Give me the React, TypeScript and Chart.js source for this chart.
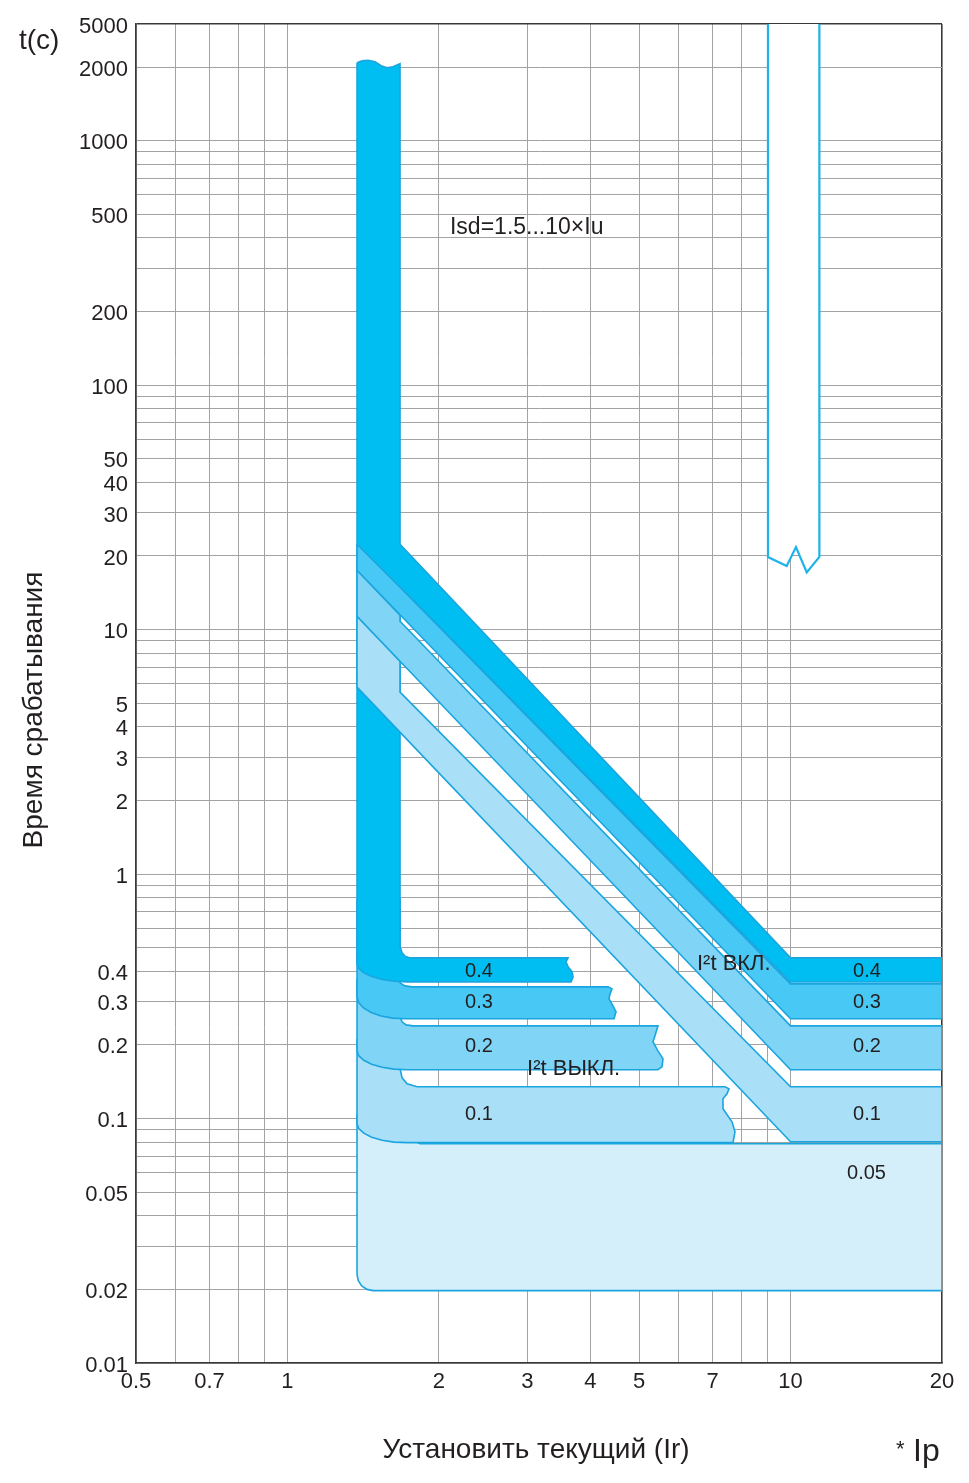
import React, { useEffect, useRef } from 'react';
import { Chart, registerables } from 'chart.js';

Chart.register(...registerables);

// ---------- axes ----------
const xTickValues = [0.5, 0.7, 1, 2, 3, 4, 5, 7, 10, 20];
const xTickLabels = ['0.5', '0.7', '1', '2', '3', '4', '5', '7', '10', '20'];
const xGridValues = [0.5, 0.6, 0.7, 0.8, 0.9, 1, 2, 3, 4, 5, 6, 7, 8, 9, 10, 20];

const yTickValues = [3000, 2000, 1000, 500, 200, 100, 50, 40, 30, 20, 10, 5, 4, 3, 2, 1, 0.4, 0.3, 0.2, 0.1, 0.05, 0.02, 0.01];
const yTickLabels = ['5000', '2000', '1000', '500', '200', '100', '50', '40', '30', '20', '10', '5', '4', '3', '2', '1', '0.4', '0.3', '0.2', '0.1', '0.05', '0.02', '0.01'];
const yGridDecades = [0.01, 0.1, 1, 10, 100];
const yGridExtra = [1000, 2000, 3000];

// ---------- bands: current (x Ir) and time (s) of outline vertices ----------
// tsd = 0.05 band
const band005I = [1.375, 1.835, 20, 20, 1.48, 1.439, 1.405, 1.383, 1.375, 1.375];
const band005T = [0.1046, 0.0789, 0.0789, 0.01978, 0.01978, 0.02, 0.02068, 0.02172, 0.023, 0.1046];

// I2t OFF, tsd = 0.1 (left, broken end)
const off01I = [1.375, 1.674, 1.674, 1.69, 1.729, 1.81, 7.408, 7.545, 7.476, 7.34, 7.34, 7.649, 7.755, 7.684, 1.729, 1.629, 1.542, 1.47, 1.418, 1.386, 1.375, 1.375];
const off01T = [0.212, 0.212, 0.1598, 0.1468, 0.1388, 0.1349, 0.1349, 0.1323, 0.1263, 0.1205, 0.1096, 0.097, 0.0883, 0.0797, 0.0797, 0.0801, 0.0815, 0.0839, 0.0871, 0.091, 0.0952, 0.212];

// I2t OFF, tsd = 0.2
const off02I = [1.375, 1.674, 1.674, 1.69, 1.721, 1.777, 5.451, 5.377, 5.328, 5.451, 5.578, 5.552, 5.451, 1.729, 1.629, 1.542, 1.47, 1.418, 1.386, 1.375, 1.375];
const off02T = [0.3726, 0.3726, 0.2606, 0.2486, 0.2416, 0.2394, 0.2394, 0.2181, 0.206, 0.1892, 0.1755, 0.1628, 0.1583, 0.1583, 0.1592, 0.162, 0.1669, 0.173, 0.1807, 0.1892, 0.3726];

// I2t OFF, tsd = 0.3
const off03I = [1.375, 1.674, 1.674, 1.713, 1.769, 4.337, 4.417, 4.377, 4.357, 4.437, 4.499, 4.458, 1.713, 1.618, 1.535, 1.467, 1.416, 1.385, 1.375, 1.375];
const off03T = [0.791, 0.791, 0.3589, 0.3488, 0.3455, 0.3455, 0.3391, 0.3236, 0.3088, 0.2891, 0.2733, 0.2558, 0.2558, 0.2574, 0.2628, 0.2716, 0.2837, 0.2982, 0.3145, 0.791];

// tsd = 0.4 (vertical Isd band, I2t ON diagonal and I2t OFF step)
const band04I = [1.375, 1.407, 1.446, 1.493, 1.535, 1.577, 1.621, 1.674, 1.674, 10, 20, 20, 10, 1.674, 1.674, 1.69, 1.713, 1.753, 3.612, 3.579, 3.612, 3.679, 3.696, 3.662, 1.729, 1.629, 1.542, 1.47, 1.418, 1.386, 1.375, 1.375];
const band04T = [2083, 2123, 2133, 2102, 2025, 1988, 2006, 2064, 22.34, 0.454, 0.454, 0.362, 0.362, 14.9, 0.5037, 0.476, 0.4606, 0.454, 0.454, 0.4372, 0.4172, 0.3981, 0.3798, 0.3622, 0.3622, 0.3644, 0.3705, 0.3808, 0.3942, 0.4107, 0.4291, 2083];

// I2t ON diagonals
const on01I = [1.375, 1.674, 1.674, 10, 20, 20, 10, 1.375, 1.375];
const on01T = [11.34, 7.43, 5.548, 0.1349, 0.1349, 0.0804, 0.0804, 5.815, 11.34];
const on02I = [1.375, 1.674, 1.674, 10, 20, 20, 10, 1.375, 1.375];
const on02T = [17.48, 11.45, 10.82, 0.2394, 0.2394, 0.1583, 0.1583, 11.34, 17.48];
const on03I = [1.375, 1.674, 10, 20, 20, 10, 1.375, 1.375];
const on03T = [22.34, 14.9, 0.3555, 0.3555, 0.2558, 0.2558, 17.48, 22.34];

// instantaneous zone (open frame, top right)
const instI = [9.018, 9.018, 9.825, 10.25, 10.77, 11.41, 11.41, 9.018];
const instT = [5000, 19.82, 18.21, 21.76, 17.12, 19.82, 5000, 5000];

// ---------- in-plot labels ----------
const noteTexts = ['Isd=1.5...10×Iu', '0.4', '0.3', '0.2', '0.1', '0.4', '0.3', '0.2', '0.1', '0.05', 'I²t ВЫКЛ.', 'I²t ВКЛ.'];
const noteI = [2.104, 2.254, 2.254, 2.254, 2.254, 13.31, 13.31, 13.31, 13.31, 12.95, 2.994, 6.516];
const noteT = [441, 0.4, 0.297, 0.197, 0.104, 0.4, 0.297, 0.197, 0.104, 0.0598, 0.159, 0.43];
const noteSizes = [23, 20, 20, 20, 20, 20, 20, 20, 20, 20, 22, 22];

const FONT = "'Liberation Sans', Arial, Helvetica, sans-serif";
const TEXT = '#231F20';
const STROKE = '#1AA5DE';
const C04 = '#00BDF2';
const C03 = '#48C8F4';
const C02 = '#80D4F6';
const C01 = '#AADFF8';
const C005 = '#D4EEFA';

const zip = (xs: number[], ys: number[]) => xs.map((x, i) => ({ x, y: ys[i] }));
const near = (a: number, b: number) => Math.abs(a - b) <= 1e-9 * Math.max(Math.abs(a), Math.abs(b));

const textPlugin = {
  id: 'chartTexts',
  afterDatasetsDraw(chart: any) {
    const { ctx, scales } = chart;
    const xs = scales.x;
    const ys = scales.y;
    ctx.save();
    ctx.fillStyle = TEXT;
    ctx.textBaseline = 'middle';
    ctx.textAlign = 'left';
    noteTexts.forEach((t, i) => {
      ctx.font = `${noteSizes[i]}px ${FONT}`;
      ctx.fillText(t, xs.getPixelForValue(noteI[i]), ys.getPixelForValue(noteT[i]));
    });
    // unit label
    ctx.font = `28px ${FONT}`;
    ctx.fillText('t(c)', 19, 41);
    // y title
    ctx.save();
    ctx.translate(34, 710);
    ctx.rotate(-Math.PI / 2);
    ctx.textAlign = 'center';
    ctx.font = `28px ${FONT}`;
    ctx.fillText('Время срабатывания', 0, 0);
    ctx.restore();
    // x title
    ctx.textAlign = 'center';
    ctx.font = `28px ${FONT}`;
    ctx.fillText('Установить текущий (Ir)', 536, 1450);
    ctx.textAlign = 'left';
    ctx.font = `22px ${FONT}`;
    ctx.fillText('*', 896, 1450);
    ctx.font = `32px ${FONT}`;
    ctx.fillText('Ip', 913, 1452);
    ctx.restore();
  },
};

export default function App() {
  const ref = useRef<HTMLCanvasElement | null>(null);

  useEffect(() => {
    const canvas = ref.current;
    if (!canvas) return;

    const layers = [
      { I: band005I, T: band005T, fill: C005, stroke: STROKE, w: 1.6 },
      { I: off01I, T: off01T, fill: C01, stroke: STROKE, w: 1.6 },
      { I: off02I, T: off02T, fill: C02, stroke: STROKE, w: 1.6 },
      { I: off03I, T: off03T, fill: C03, stroke: STROKE, w: 1.6 },
      { I: band04I, T: band04T, fill: C04, stroke: STROKE, w: 1.6 },
      { I: on01I, T: on01T, fill: C01, stroke: STROKE, w: 1.6 },
      { I: on02I, T: on02T, fill: C02, stroke: STROKE, w: 1.6 },
      { I: on03I, T: on03T, fill: C03, stroke: STROKE, w: 1.6 },
      { I: instI, T: instT, fill: '#FFFFFF', stroke: '#1DB3EA', w: 2.2 },
    ];

    const datasets = layers.map((l, i) => ({
      data: zip(l.I, l.T),
      borderColor: l.stroke,
      borderWidth: l.w,
      backgroundColor: l.fill,
      fill: 'shape',
      pointRadius: 0,
      pointHoverRadius: 0,
      tension: 0,
      order: layers.length - i,
    }));

    const yGridValues: number[] = [];
    yGridDecades.forEach((d) => {
      for (let m = 1; m <= 9; m++) yGridValues.push(Number((m * d).toPrecision(6)));
    });
    yGridExtra.forEach((v) => yGridValues.push(v));

    const frame = '#3a3a3a';
    const gridC = '#a3a3a3';

    const chart = new Chart(canvas, {
      type: 'line',
      data: { datasets: datasets as any },
      options: {
        responsive: false,
        animation: false,
        events: [],
        layout: { padding: { top: 24, right: 27, bottom: 0, left: 0 } },
        plugins: { legend: { display: false }, tooltip: { enabled: false } },
        scales: {
          x: {
            type: 'logarithmic',
            min: 0.5,
            max: 20,
            afterBuildTicks: (s: any) => {
              s.ticks = xGridValues.map((v) => ({ value: v }));
            },
            afterFit: (s: any) => {
              s.height = 120;
            },
            ticks: {
              autoSkip: false,
              maxRotation: 0,
              minRotation: 0,
              padding: 6,
              color: TEXT,
              font: { family: FONT, size: 22 },
              callback: (v: any) => {
                const i = xTickValues.findIndex((t) => near(t, Number(v)));
                return i >= 0 ? xTickLabels[i] : '';
              },
            },
            grid: {
              drawTicks: false,
              color: (c: any) => (c.tick && near(c.tick.value, 20) ? frame : gridC),
              lineWidth: (c: any) => (c.tick && near(c.tick.value, 20) ? 1.6 : 1),
            },
            border: { display: true, color: frame, width: 1.6 },
          },
          y: {
            type: 'logarithmic',
            min: 0.01,
            max: 3000,
            afterBuildTicks: (s: any) => {
              s.ticks = yGridValues.map((v) => ({ value: v }));
            },
            afterFit: (s: any) => {
              s.width = 136;
            },
            ticks: {
              autoSkip: false,
              padding: 8,
              labelOffset: 2.5,
              color: TEXT,
              font: { family: FONT, size: 22 },
              callback: (v: any) => {
                const i = yTickValues.findIndex((t) => near(t, Number(v)));
                return i >= 0 ? yTickLabels[i] : '';
              },
            },
            grid: {
              drawTicks: false,
              color: (c: any) => (c.tick && near(c.tick.value, 3000) ? frame : gridC),
              lineWidth: (c: any) => (c.tick && near(c.tick.value, 3000) ? 1.6 : 1),
            },
            border: { display: true, color: frame, width: 1.6 },
          },
        },
      } as any,
      plugins: [textPlugin],
    });

    return () => chart.destroy();
  }, []);

  return (
    <div style={{ position: 'absolute', left: 0, top: 0, width: 969, height: 1483, background: '#fff' }}>
      <canvas ref={ref} width={969} height={1483} style={{ display: 'block' }} />
    </div>
  );
}
